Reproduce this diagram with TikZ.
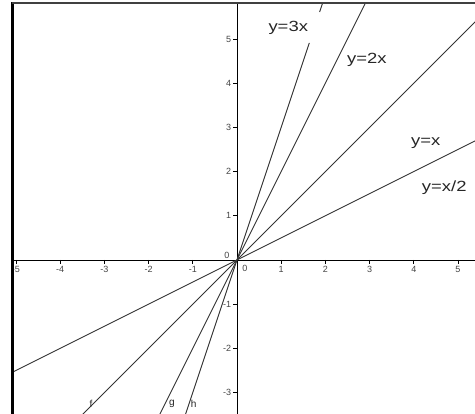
\documentclass[tikz,border=0pt]{standalone}
\usepackage{fontspec}
\setmainfont{Liberation Sans}
\newfontfamily\labfont[FakeStretch=1.25]{Liberation Sans}
\definecolor{lineC}{HTML}{333333}
\definecolor{tickC}{HTML}{444444}
\begin{document}
\begin{tikzpicture}[x=1cm,y=1cm,
  graph/.style={draw=lineC,line width=0.6pt},
  axis/.style={draw=black,line width=0.5pt},
  tickmark/.style={draw=black,line width=0.4pt},
  ticklab/.style={font=\fontsize{5.8}{6.5}\selectfont,text=tickC,inner sep=0.5pt},
  curvelab/.style={font=\labfont\fontsize{9.5}{10}\selectfont,text=black!85,inner sep=0pt},
  namelab/.style={font=\fontsize{6.5}{7}\selectfont,text=black!85,inner sep=0pt}]
\useasboundingbox (-5.362,-3.484) rectangle (5.385,5.882);
\coordinate (O) at (0,0);
\begin{scope}
\clip (-5.09,-3.484) rectangle (5.385,5.81);
% axes
\draw[axis] (-5.2,0) -- (5.5,0);
\draw[axis] (0,-3.6) -- (0,6);
% lines
\coordinate (fA) at (-6,-6); \coordinate (fB) at (6,6);
\coordinate (gA) at (-3,-6); \coordinate (gB) at (3,6);
\coordinate (hA) at (-2,-6); \coordinate (hB) at (1.637,4.911);
\coordinate (hC) at (1.87,5.61); \coordinate (hD) at (2,6);
\coordinate (kA) at (-6,-3); \coordinate (kB) at (6,3);
\draw[graph] (fA) -- (fB);
\draw[graph] (gA) -- (gB);
\draw[graph] (hA) -- (hB);
\draw[graph] (hC) -- (hD);
\draw[graph] (kA) -- (kB);
\end{scope}
% ticks x
\foreach \i in {-5,-4,-3,-2,-1,1,2,3,4,5}{
  \draw[tickmark] (\i,0) -- (\i,-0.09);
  \node[ticklab] (xt\i) at (\i,-0.21) {\i};
}
\foreach \j in {-3,-2,-1,1,2,3,4,5}{
  \draw[tickmark] (0,\j) -- (-0.09,\j);
  \node[ticklab,anchor=east] (yt\j) at (-0.11,\j) {\j};
}
\node[ticklab] (x0) at (0.18,-0.2) {0};
\node[ticklab] (y0) at (-0.23,0.1) {0};
% frame
\draw[draw=black,line width=1.4pt] (-5.08,-3.484) -- (-5.08,5.84);
\draw[draw=black!75,line width=1.1pt] (-5.09,5.82) -- (5.385,5.82);
% labels
\node[curvelab] (l3) at (1.16,5.25) {y=3x};
\node[curvelab] (l2) at (2.94,4.52) {y=2x};
\node[curvelab] (l1) at (4.27,2.64) {y=x};
\node[curvelab] (l12) at (4.69,1.63) {y=x/2};
\node[namelab] (nf) at (-3.3,-3.26) {f};
\node[namelab] (ng) at (-1.47,-3.26) {g};
\node[namelab] (nh) at (-0.98,-3.26) {h};
\end{tikzpicture}
\end{document}
